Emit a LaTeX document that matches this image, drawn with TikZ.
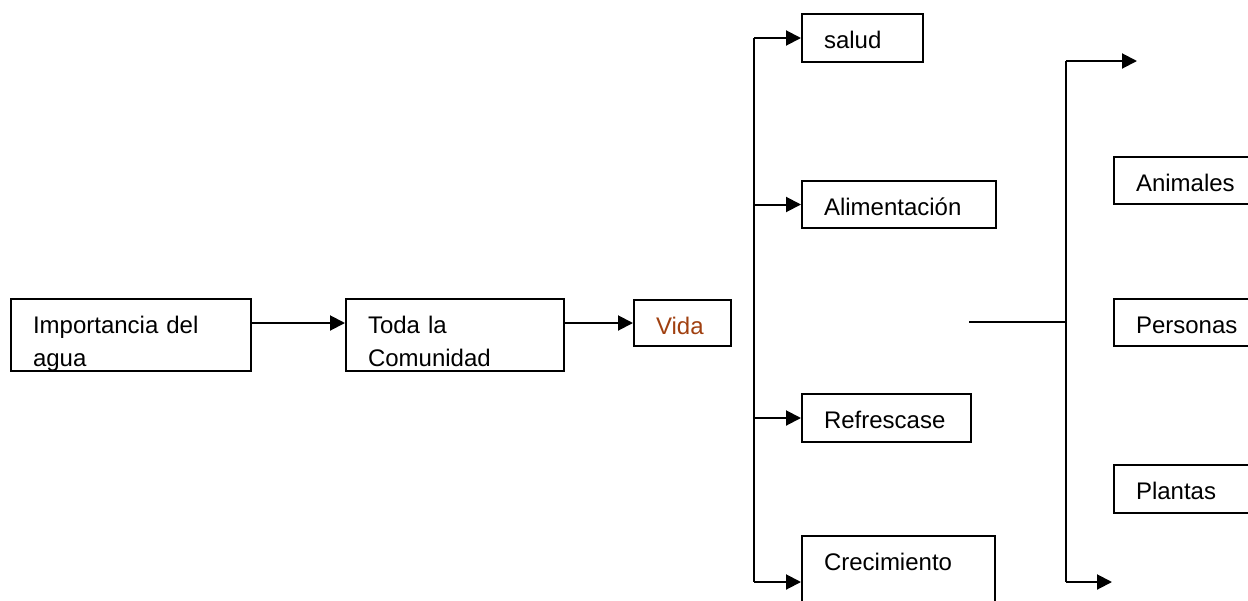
\documentclass[tikz,border=0pt]{standalone}
\usepackage{fontspec}
\setmainfont{Liberation Sans}
\usetikzlibrary{arrows.meta}
\definecolor{vidacolor}{RGB}{160,64,16}

\tikzstyle{caja} = [rectangle, draw, line width=1pt, anchor=north west,
    inner xsep=11pt, inner ysep=0pt, align=left, text height=17pt,
    font=\fontsize{12}{16.5}\selectfont]
\tikzstyle{flecha} = [line width=1pt, -{Triangle[length=7.5pt,width=7.5pt]}]
\tikzstyle{linea} = [line width=1pt]

\begin{document}
\begin{tikzpicture}[x=0.5pt, y=-0.5pt]
	\useasboundingbox (0,0) rectangle (1248,600);
	%
	\node [caja, text width=98pt, text depth=19pt] (imp) at (10,298) {Importancia del\\agua};
	\node [caja, text width=87pt, text depth=19pt] (toda) at (345,298) {Toda la\\Comunidad};
	\node [caja, text width=26.5pt, text depth=6pt, text=vidacolor] (vida) at (633,299) {Vida};
	%
	\node [caja, text width=38.5pt, text depth=7pt] (salud) at (801,13) {salud};
	\node [caja, text width=75pt, text depth=6.5pt] (alim) at (801,180) {Alimentación};
	\node [caja, text width=62.5pt, text depth=7pt] (refr) at (801,393) {Refrescase};
	\node [caja, text width=74.5pt, text depth=20.5pt] (crec) at (801,535) {Crecimiento};
	%
	\node [caja, text width=58pt, text depth=6.5pt] (anim) at (1113,156) {Animales};
	\node [caja, text width=58pt, text depth=6.5pt] (pers) at (1113,298) {Personas};
	\node [caja, text width=58pt, text depth=7pt] (plan) at (1113,464) {Plantas};
	%
	\coordinate (ramaa) at (754,38);
	\coordinate (ramab) at (754,582);
	\coordinate (inicio) at (969,322);
	\coordinate (union) at (1066,322);
	\coordinate (ramac) at (1066,61);
	\coordinate (ramad) at (1066,582);
	\coordinate (fina) at (1137,61);
	\coordinate (finb) at (1112,582);
	%
	\draw [flecha] (imp.east |- vida) -- (toda.west |- vida);
	\draw [flecha] (toda.east |- vida) -- (vida);
	%
	\draw [linea] (ramaa) -- (ramab);
	\draw [flecha] (ramaa) -- (salud.west |- ramaa);
	\draw [flecha] (ramaa |- alim) -- (alim.west);
	\draw [flecha] (ramaa |- refr) -- (refr.west);
	\draw [flecha] (ramab) -- (crec.west |- ramab);
	%
	\draw [linea] (inicio) -- (union);
	\draw [linea] (ramac) -- (ramad);
	\draw [flecha] (ramac) -- (fina);
	\draw [flecha] (ramad) -- (finb);
\end{tikzpicture}
\end{document}
